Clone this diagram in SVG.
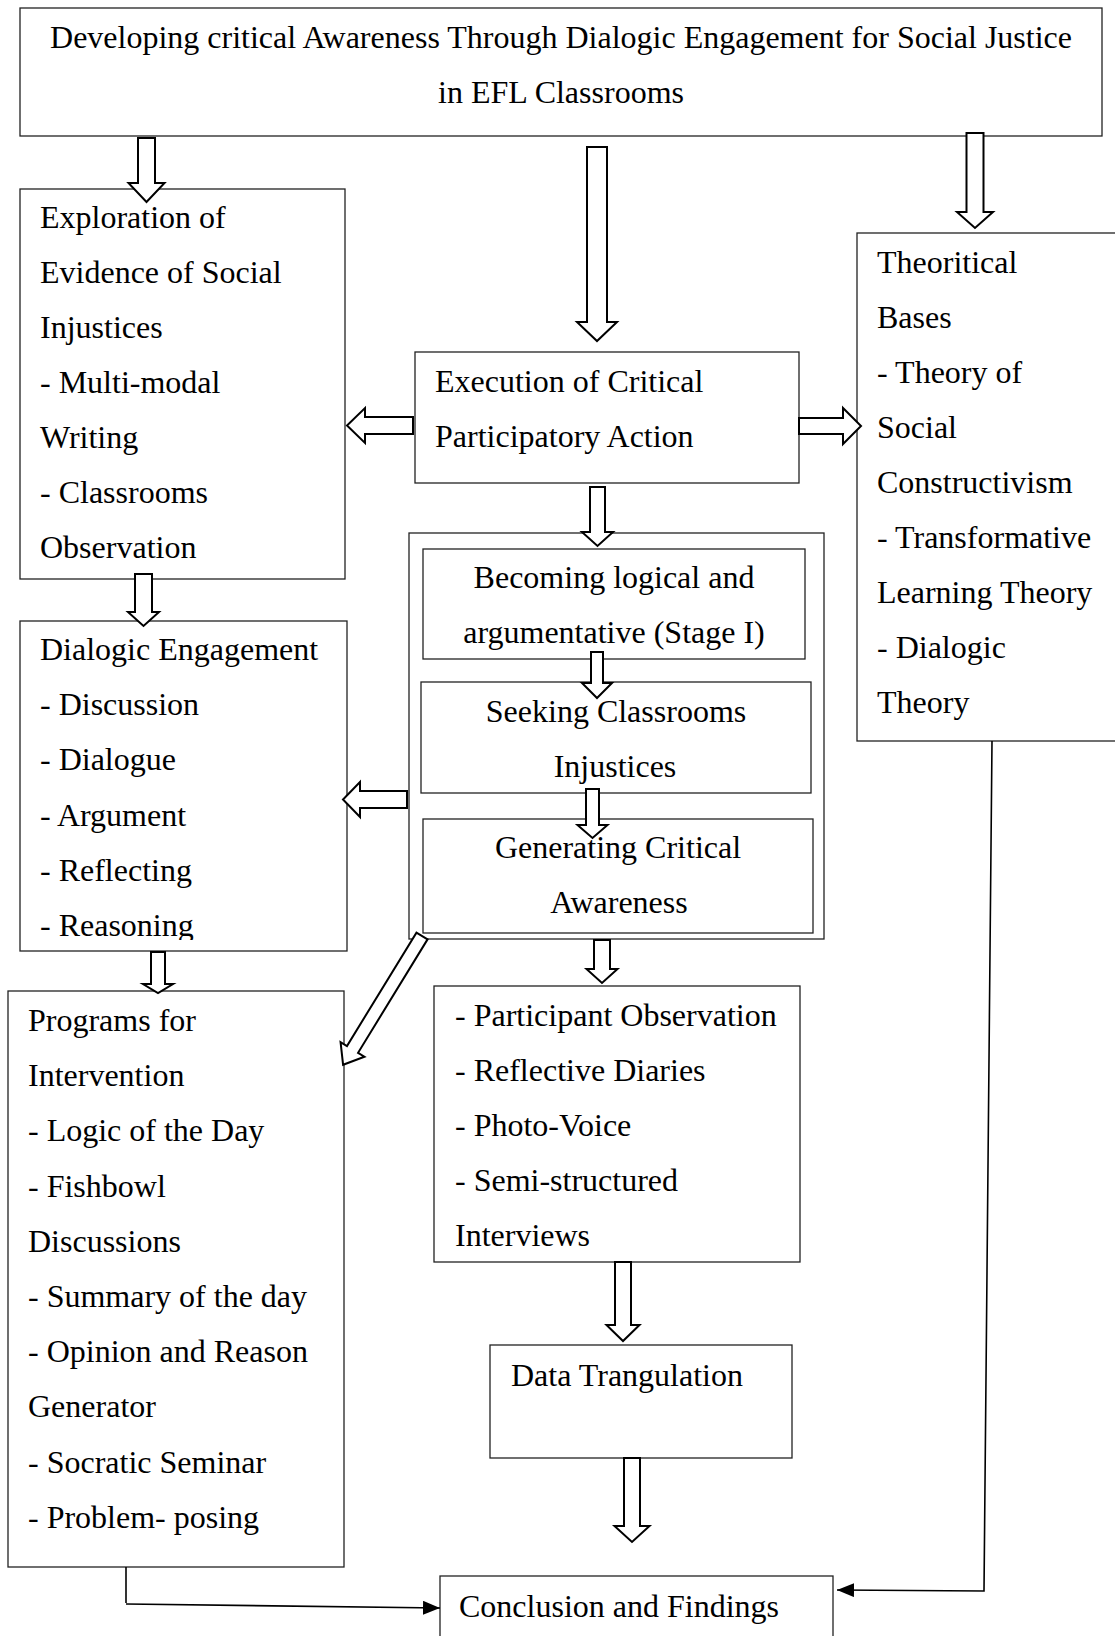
<svg xmlns="http://www.w3.org/2000/svg" width="1115" height="1636" viewBox="0 0 1115 1636">
<style>
.box{fill:#fff;stroke:#222;stroke-width:1.3}
.t{font-family:"Liberation Serif","Times New Roman",serif;font-size:32px;fill:#000}
.c{text-anchor:middle}
.blk{fill:#fff;stroke:#000;stroke-width:2;stroke-linejoin:miter}
.ln{fill:none;stroke:#000;stroke-width:1.6}
</style>
<defs>
<marker id="ah" markerUnits="userSpaceOnUse" markerWidth="17" markerHeight="14" viewBox="0 0 17 14" refX="17" refY="7" orient="auto">
<path d="M0,0 L17,7 L0,14 z" fill="#000"/>
</marker>
<clipPath id="clipDlg"><rect x="20" y="621" width="327" height="319"/></clipPath>
</defs>
<rect width="1115" height="1636" fill="#fff"/>

<g id="title">
<rect class="box" x="20" y="8" width="1082" height="128"/>
<text class="t c" x="561" y="48">Developing critical Awareness Through Dialogic Engagement for Social Justice</text>
<text class="t c" x="561" y="103">in EFL Classrooms</text>
</g>

<g id="exploration">
<rect class="box" x="20" y="189" width="325" height="390"/>
<text class="t" x="40" y="228">Exploration of</text>
<text class="t" x="40" y="283">Evidence of Social</text>
<text class="t" x="40" y="338">Injustices</text>
<text class="t" x="40" y="393">- Multi-modal</text>
<text class="t" x="40" y="448">Writing</text>
<text class="t" x="40" y="503">- Classrooms</text>
<text class="t" x="40" y="558">Observation</text>
</g>

<g id="execution">
<rect class="box" x="415" y="352" width="384" height="131"/>
<text class="t" x="435" y="392">Execution of Critical</text>
<text class="t" x="435" y="447">Participatory Action</text>
</g>

<g id="theoretical">
<rect class="box" x="857" y="233" width="262" height="508"/>
<text class="t" x="877" y="273">Theoritical</text>
<text class="t" x="877" y="328">Bases</text>
<text class="t" x="877" y="383">- Theory of</text>
<text class="t" x="877" y="438">Social</text>
<text class="t" x="877" y="493">Constructivism</text>
<text class="t" x="877" y="548">- Transformative</text>
<text class="t" x="877" y="603">Learning Theory</text>
<text class="t" x="877" y="658">- Dialogic</text>
<text class="t" x="877" y="713">Theory</text>
</g>

<g id="stages">
<rect class="box" x="409" y="533" width="415" height="406"/>
</g>

<g id="stage1">
<rect class="box" x="423" y="549" width="382" height="110"/>
<text class="t c" x="614" y="588">Becoming logical and</text>
<text class="t c" x="614" y="643">argumentative (Stage I)</text>
</g>

<g id="stage2">
<rect class="box" x="421" y="682" width="390" height="111"/>
<text class="t c" x="616" y="722">Seeking Classrooms</text>
<text class="t c" x="615" y="777">Injustices</text>
</g>

<g id="stage3">
<rect class="box" x="423" y="819" width="390" height="114"/>
<text class="t c" x="618" y="858">Generating Critical</text>
<text class="t c" x="619" y="913">Awareness</text>
</g>

<g id="dialogic">
<rect class="box" x="20" y="621" width="327" height="330"/>
<g clip-path="url(#clipDlg)">
<text class="t" x="40" y="660">Dialogic Engagement</text>
<text class="t" x="40" y="715">- Discussion</text>
<text class="t" x="40" y="770">- Dialogue</text>
<text class="t" x="40" y="826">- Argument</text>
<text class="t" x="40" y="881">- Reflecting</text>
<text class="t" x="40" y="936">- Reasoning</text>
</g>
</g>

<g id="programs">
<rect class="box" x="8" y="991" width="336" height="576"/>
<text class="t" x="28" y="1031">Programs for</text>
<text class="t" x="28" y="1086">Intervention</text>
<text class="t" x="28" y="1141">- Logic of the Day</text>
<text class="t" x="28" y="1197">- Fishbowl</text>
<text class="t" x="28" y="1252">Discussions</text>
<text class="t" x="28" y="1307">- Summary of the day</text>
<text class="t" x="28" y="1362">- Opinion and Reason</text>
<text class="t" x="28" y="1417">Generator</text>
<text class="t" x="28" y="1473">- Socratic Seminar</text>
<text class="t" x="28" y="1528">- Problem- posing</text>
</g>

<g id="methods">
<rect class="box" x="434" y="986" width="366" height="276"/>
<text class="t" x="455" y="1026">- Participant Observation</text>
<text class="t" x="455" y="1081">- Reflective Diaries</text>
<text class="t" x="455" y="1136">- Photo-Voice</text>
<text class="t" x="455" y="1191">- Semi-structured</text>
<text class="t" x="455" y="1246">Interviews</text>
</g>

<g id="triangulation">
<rect class="box" x="490" y="1345" width="302" height="113"/>
<text class="t" x="511" y="1386">Data Trangulation</text>
</g>

<g id="conclusion">
<rect class="box" x="440" y="1576" width="393" height="80"/>
<text class="t" x="459" y="1617">Conclusion and Findings</text>
</g>

<g id="connectors">
<polygon class="blk" points="138,138 155,138 155,183 164.5,183 146.5,202 128.5,183 138,183"/>
<polygon class="blk" points="587,147 607,147 607,322 617,322 597,341 577,322 587,322"/>
<polygon class="blk" points="966.5,133 983.5,133 983.5,212 993,212 975,228 957,212 966.5,212"/>
<polygon class="blk" points="413,417 413,434 365,434 365,443 347,425.5 365,408 365,417"/>
<polygon class="blk" points="799,418 843,418 843,408 861,426 843,444 843,434 799,434"/>
<polygon class="blk" points="590,487 605,487 605,532 613,532 597.5,546 582,532 590,532"/>
<polygon class="blk" points="135,574 152,574 152,612 159,612 143.5,626 128,612 135,612"/>
<polygon class="blk" points="591,652 603,652 603,683 612,683 597,698 582,683 591,683"/>
<polygon class="blk" points="586,789 599,789 599,825 607.5,825 592.5,838 577.5,825 586,825"/>
<polygon class="blk" points="407,791 407,808 360,808 360,817 343,799.5 360,782 360,791"/>
<polygon class="blk" points="151,952 165,952 165,984 173,984 158,993 143,984 151,984"/>
<polygon class="blk" points="0,-6.5 133,-6.5 133,-14 151,0 133,14 133,6.5 0,6.5" transform="translate(422,936) rotate(121.5)"/>
<polygon class="blk" points="594,940 610,940 610,969 617.5,969 602,983 586.5,969 594,969"/>
<polygon class="blk" points="615,1262 631,1262 631,1325 639.5,1325 623,1341 606.5,1325 615,1325"/>
<polygon class="blk" points="624,1458 640,1458 640,1526 649.5,1526 632,1542 614.5,1526 624,1526"/>
<polyline class="ln" points="126,1567 126,1603"/>
<line class="ln" x1="126" y1="1604" x2="440" y2="1608" marker-end="url(#ah)"/>
<polyline class="ln" points="992,741 984,1591 837,1590" marker-end="url(#ah)"/>
</g>
</svg>
